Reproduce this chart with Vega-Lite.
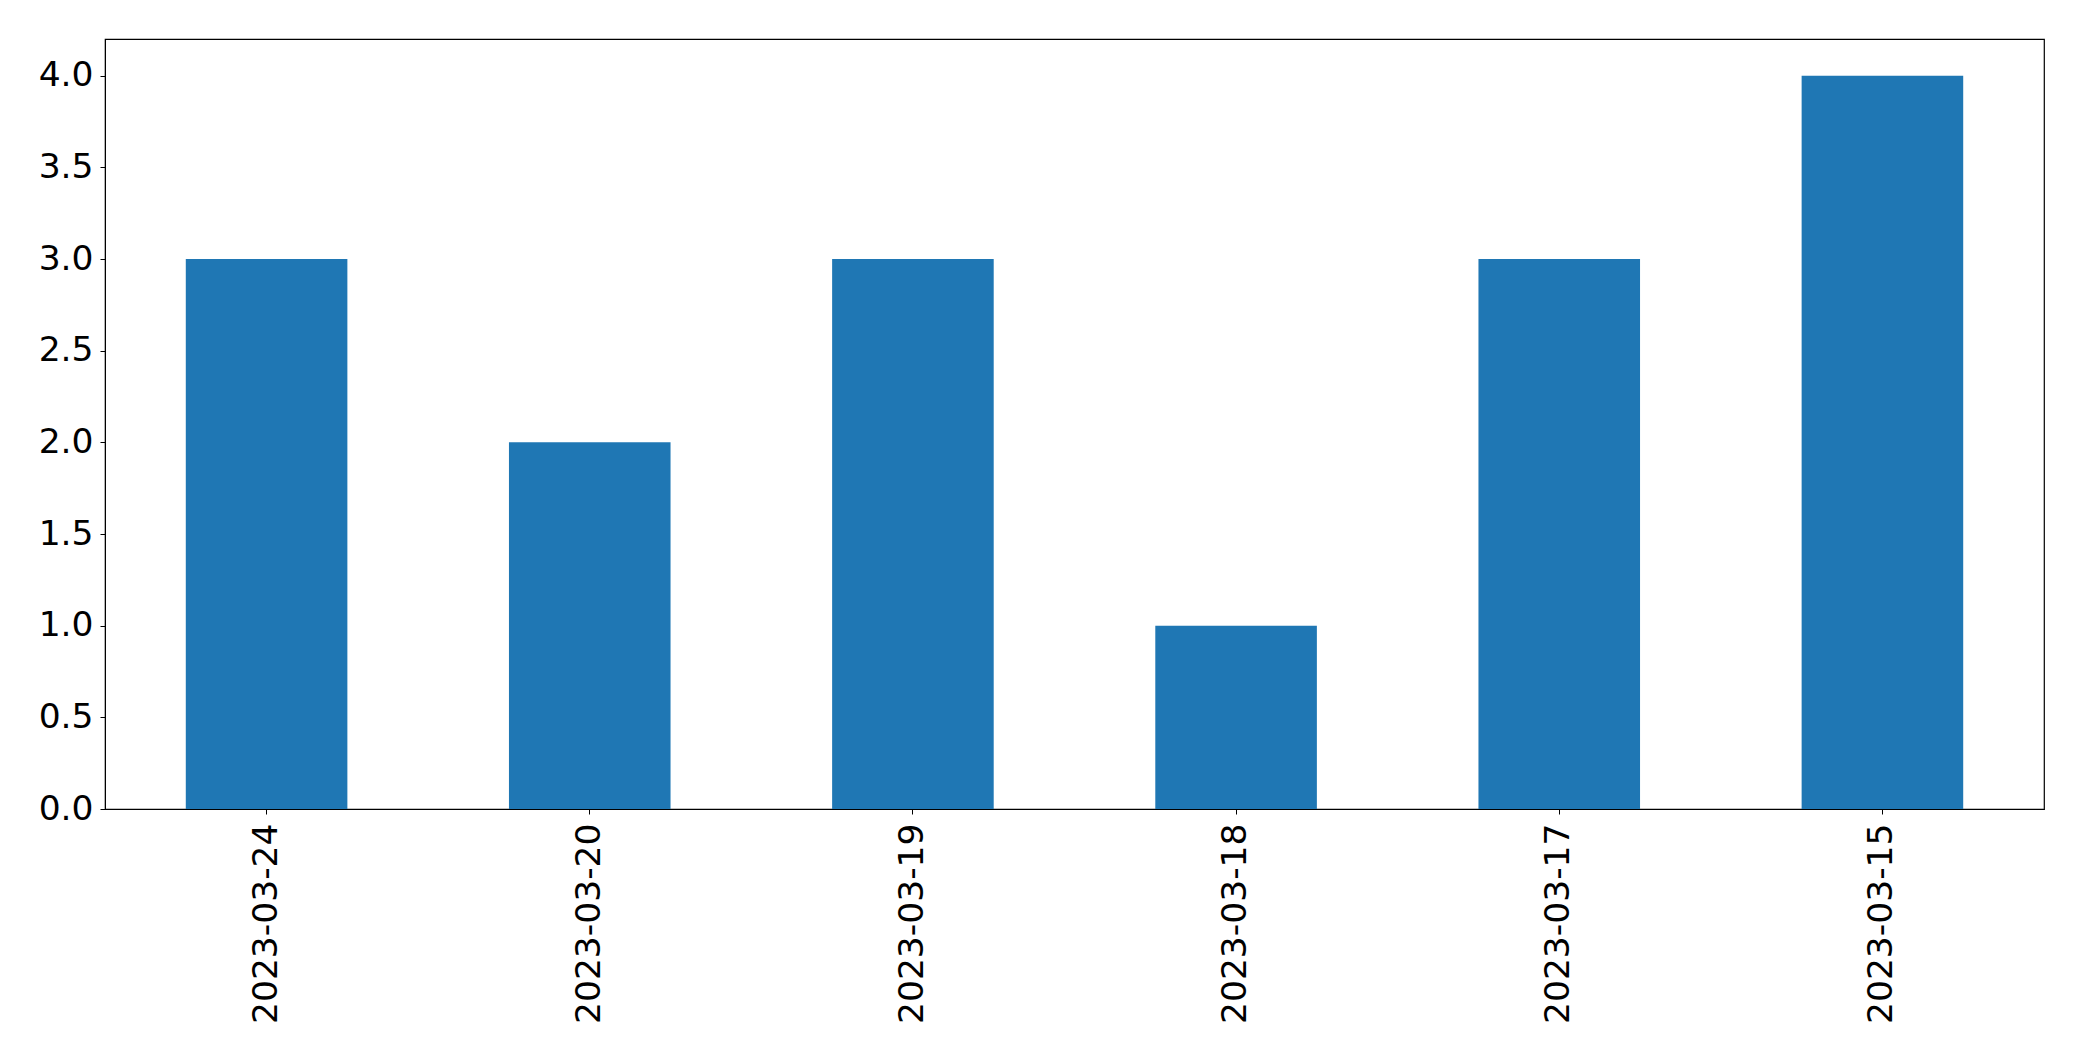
{
  "$schema": "https://vega.github.io/schema/vega-lite/v6.json",
  "autosize": "none",
  "padding": {"left": 105, "top": 39, "right": 38, "bottom": 252},
  "width": 1939,
  "height": 770,
  "background": "white",
  "data": {"values": [
    {"date": "2023-03-24", "count": 3},
    {"date": "2023-03-20", "count": 2},
    {"date": "2023-03-19", "count": 3},
    {"date": "2023-03-18", "count": 1},
    {"date": "2023-03-17", "count": 3},
    {"date": "2023-03-15", "count": 4}
  ]},
  "mark": {"type": "bar", "color": "#1f77b4"},
  "encoding": {
    "x": {
      "field": "date", "type": "nominal", "sort": null,
      "scale": {"paddingInner": 0.5, "paddingOuter": 0.25},
      "axis": {"title": null, "labelAngle": 270, "labelFontSize": 34.5, "labelFont": "DejaVu Sans", "labelColor": "black",
               "labelLimit": 0, "tickSize": 5, "tickColor": "black", "domainColor": "black", "labelPadding": 9, "grid": false}
    },
    "y": {
      "field": "count", "type": "quantitative",
      "scale": {"domain": [0, 4.2], "nice": false, "zero": true},
      "axis": {"title": null, "values": [0, 0.5, 1, 1.5, 2, 2.5, 3, 3.5, 4], "format": ".1f", "labelFontSize": 34.5,
               "labelFont": "DejaVu Sans", "labelColor": "black", "tickSize": 5, "tickColor": "black",
               "domainColor": "black", "labelPadding": 7, "grid": false}
    }
  },
  "config": {"view": {"stroke": "black", "strokeWidth": 1.2}}
}
